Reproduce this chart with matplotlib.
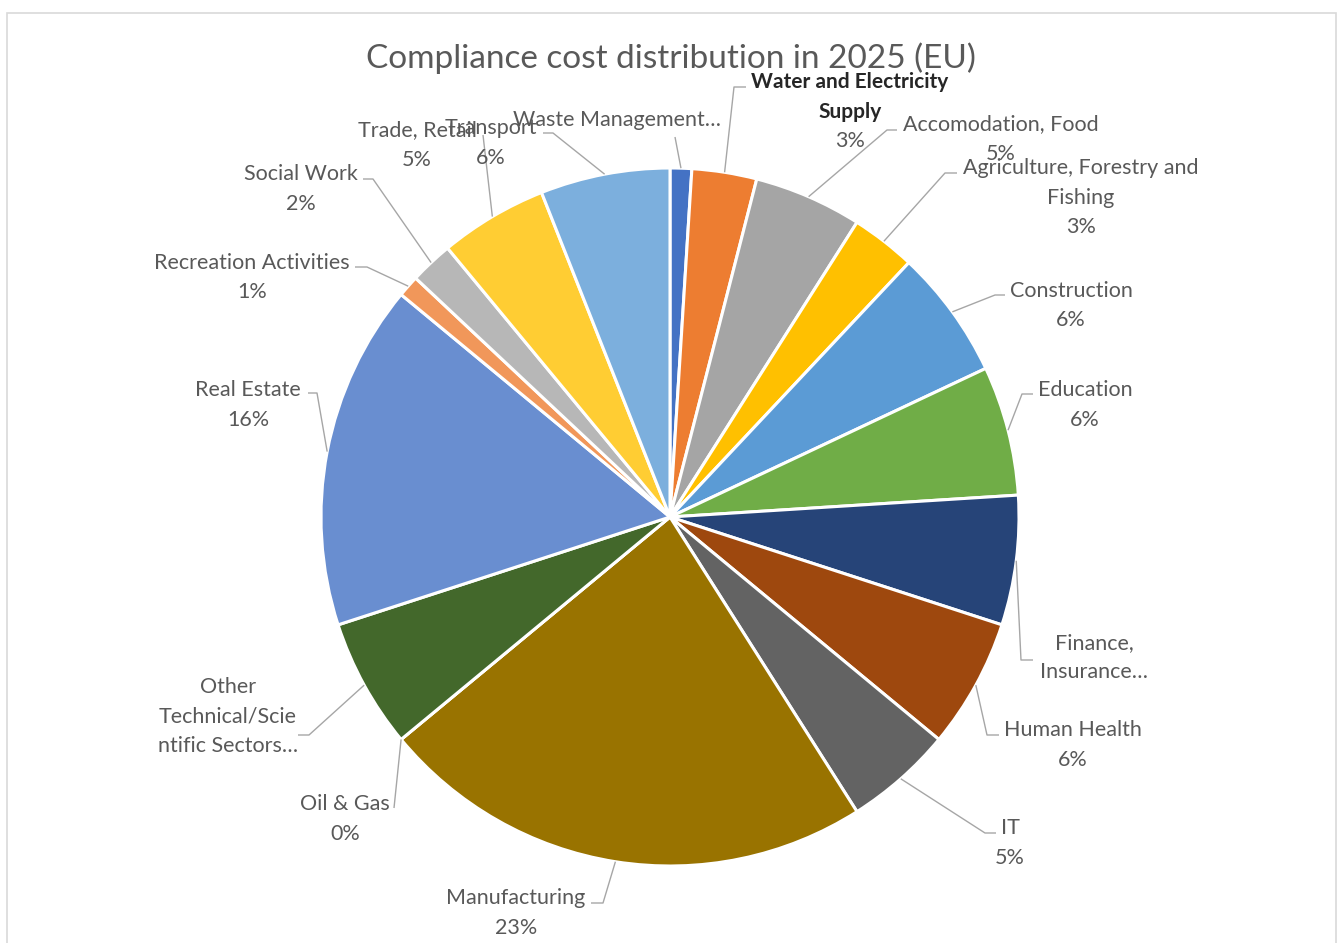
import matplotlib
matplotlib.use("Agg")
import numpy as np
import matplotlib.pyplot as plt
from matplotlib.patches import Rectangle

plt.rcParams['font.family'] = ['Lato', 'DejaVu Sans']

# data (percent of total compliance cost)
sectors = ['Waste Management', 'Water and Electricity Supply', 'Accomodation, Food',
           'Agriculture, Forestry and Fishing', 'Construction', 'Education',
           'Finance, Insurance', 'Human Health', 'IT', 'Manufacturing', 'Oil & Gas',
           'Other Technical/Scientific Sectors', 'Real Estate', 'Recreation Activities',
           'Social Work', 'Trade, Retail', 'Transport']
shares = [1, 3, 5, 3, 6, 6, 6, 6, 5, 23, 0, 6, 16, 1, 2, 5, 6]

# label text as shown in the chart (some are cut off, no percentage then)
label_text = ['Waste Management…', 'Water and Electricity\nSupply', 'Accomodation, Food',
              'Agriculture, Forestry and\nFishing', 'Construction', 'Education',
              'Finance,\nInsurance…', 'Human Health', 'IT', 'Manufacturing', 'Oil & Gas',
              'Other\nTechnical/Scie\nntific Sectors…', 'Real Estate', 'Recreation Activities',
              'Social Work', 'Trade, Retail', 'Transport']
show_pct = [False, True, True, True, True, True, False, True, True, True, True,
            False, True, True, True, True, True]

colors = ['#4472C4', '#ED7D31', '#A5A5A5', '#FFC000', '#5B9BD5', '#70AD47', '#264478',
          '#9E480E', '#636363', '#997300', '#255E91', '#43682B', '#698ED0', '#F1975A',
          '#B7B7B7', '#FFCD33', '#7CAFDD']

# layout, in image pixels (x right, y down)
W, H = 1341, 943
label_pos = [(617, 118), (850, 80), (1001, 122), (1081, 166), (1071, 289), (1085, 388),
             (1094, 641), (1073, 728), (1010, 826), (516, 896), (345, 802), (228, 685),
             (248, 388), (252, 261), (301, 172), (417, 128), (491, 126)]
leader_pts = [[(675, 137)], [(734, 87), (746, 87)], [(887, 130), (897, 130)],
              [(945, 173), (957, 173)], [(995, 295), (1005, 295)], [(1022, 394), (1033, 394)],
              [(1021, 660), (1033, 660)], [(987, 735), (999, 735)], [(985, 833), (996, 833)],
              [(603, 903), (591, 903)], [(394, 808)], [(309, 735), (298, 735)],
              [(317, 393), (308, 393)], [(367, 267), (355, 267)], [(373, 179), (363, 179)],
              [(483, 135)], [(553, 133), (543, 133)]]
line_gap = 29.5

fig = plt.figure(figsize=(W / 100, H / 100), dpi=100)
ax = fig.add_axes([0, 0, 1, 1])

wedges, _ = ax.pie(shares, colors=colors, startangle=90, counterclock=False,
                   center=(670, H - 517), radius=349,
                   wedgeprops=dict(edgecolor='white', linewidth=2.2))
ax.set_xlim(0, W)
ax.set_ylim(0, H)
ax.axis('off')

total = sum(shares)
for i, w in enumerate(wedges):
    mid = np.deg2rad((w.theta1 + w.theta2) / 2)
    sx = w.center[0] + w.r * np.cos(mid)
    sy = w.center[1] + w.r * np.sin(mid)
    xs = [sx] + [p[0] for p in leader_pts[i]]
    ys = [sy] + [H - p[1] for p in leader_pts[i]]
    ax.plot(xs, ys, color='#A6A6A6', lw=1.0, solid_capstyle='butt')

    lx, ly = label_pos[i]
    ly += 2
    lines = label_text[i].split('\n')
    for k, line in enumerate(lines):
        if i == 1:
            ax.text(lx, H - (ly + k * line_gap), line, ha='center', va='center',
                    fontsize=15, color='#262626', fontweight='bold')
        else:
            ax.text(lx, H - (ly + k * line_gap), line, ha='center', va='center',
                    fontsize=15.5, color='#595959')
    if show_pct[i]:
        ax.text(lx, H - (ly + len(lines) * line_gap), f'{shares[i] / total * 100:.0f}%',
                ha='center', va='center', fontsize=15.5, color='#595959')

ax.text(671, H - 58, 'Compliance cost distribution in 2025 (EU)', ha='center', va='center',
        fontsize=24, color='#595959')

ax.add_patch(Rectangle((7.5, -20), 1328.5, H - 13 + 20, fill=False,
                       edgecolor='#D9D9D9', lw=1.2, clip_on=False))

fig.savefig('out.png', dpi=100)
